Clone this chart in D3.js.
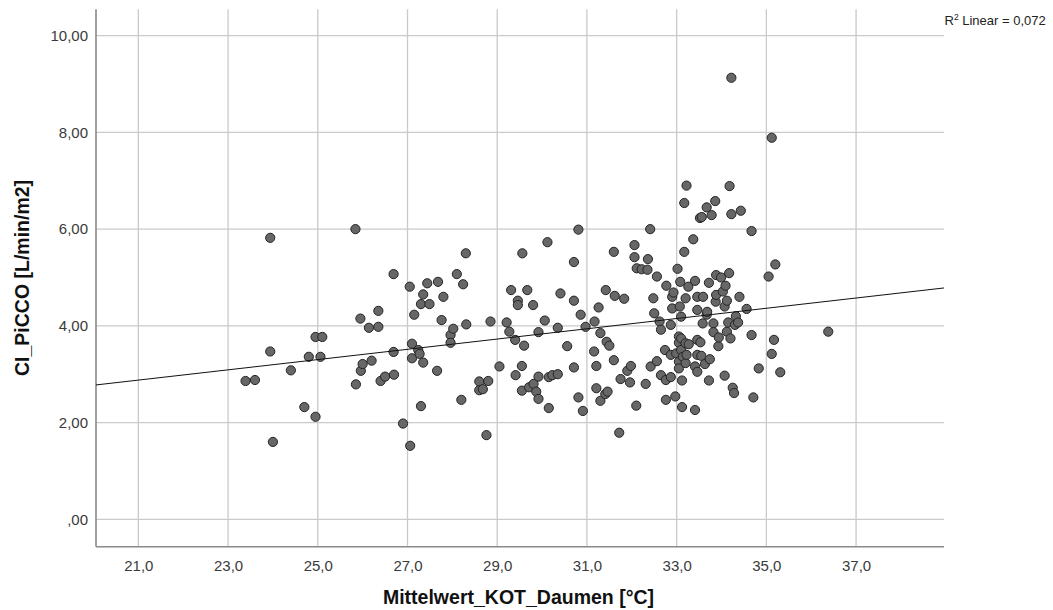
<!DOCTYPE html>
<html>
<head>
<meta charset="utf-8">
<script src="https://cdn.jsdelivr.net/npm/d3@7"></script>
<style>
  html, body { margin: 0; padding: 0; background: #fff; }
  svg { display: block; }
  text { font-family: "Liberation Sans", Arial, sans-serif; }
</style>
</head>
<body>
<svg id="chart" width="1053" height="610"></svg>
<script>
// ---- Data ----
const thumbTemp = [
  23.39, 23.60, 23.94, 23.94, 24.00, 24.40, 24.70, 24.80, 24.95, 25.10,
  25.06, 24.95, 25.84, 25.85, 25.95, 25.96, 26.00, 26.14, 26.20, 26.35,
  26.35, 26.40, 26.50, 26.69, 26.69, 26.70, 26.90, 27.05, 27.06, 27.10,
  27.10, 27.15, 27.24, 27.27, 27.30, 27.30, 27.35, 27.35, 27.44, 27.49,
  27.66, 27.68, 27.76, 27.80, 27.96, 27.96, 28.02, 28.10, 28.20, 28.24,
  28.30, 28.31, 28.60, 28.60, 28.68, 28.76, 28.80, 28.85, 29.05, 29.21,
  29.27, 29.31, 29.40, 29.41, 29.46, 29.46, 29.55, 29.55, 29.56, 29.60,
  29.67, 29.71, 29.80, 29.81, 29.87, 29.92, 29.92, 29.92, 30.06, 30.12,
  30.15, 30.15, 30.23, 30.35, 30.35, 30.41, 30.56, 30.71, 30.71, 30.71,
  30.81, 30.81, 30.86, 30.91, 30.97, 31.16, 31.17, 31.21, 31.21, 31.26,
  31.30, 31.30, 31.41, 31.42, 31.44, 31.46, 31.50, 31.60, 31.60, 31.62,
  31.72, 31.75, 31.83, 31.90, 31.96, 31.98, 32.06, 32.06, 32.11, 32.10,
  32.22, 32.31, 32.35, 32.36, 32.41, 32.42, 32.48, 32.50, 32.56, 32.56,
  32.62, 32.65, 32.65, 32.74, 32.76, 32.76, 32.77, 32.87, 32.87, 32.87,
  32.90, 32.90, 32.93, 32.97, 32.99, 33.02, 33.05, 33.05, 33.05, 33.05,
  33.07, 33.08, 33.10, 33.10, 33.10, 33.12, 33.12, 33.14, 33.17, 33.17,
  33.20, 33.20, 33.20, 33.22, 33.22, 33.26, 33.27, 33.37, 33.41, 33.41,
  33.41, 33.46, 33.46, 33.46, 33.46, 33.46, 33.52, 33.53, 33.55, 33.56,
  33.58, 33.59, 33.63, 33.67, 33.67, 33.68, 33.72, 33.72, 33.74, 33.78,
  33.82, 33.82, 33.86, 33.87, 33.88, 33.88, 33.93, 33.94, 33.99, 34.03,
  34.07, 34.07, 34.09, 34.12, 34.12, 34.15, 34.17, 34.18, 34.20, 34.22,
  34.22, 34.25, 34.28, 34.30, 34.32, 34.37, 34.40, 34.43, 34.56, 34.67,
  34.67, 34.71, 34.83, 35.05, 35.12, 35.12, 35.17, 35.20, 35.31, 36.38
];
const ciPicco = [
  2.86, 2.88, 3.47, 5.82, 1.60, 3.08, 2.32, 3.36, 3.77, 3.77,
  3.36, 2.12, 6.00, 2.79, 4.15, 3.07, 3.21, 3.96, 3.28, 4.31,
  3.98, 2.86, 2.95, 5.07, 3.46, 2.99, 1.98, 4.81, 1.52, 3.63,
  3.33, 4.23, 3.50, 3.42, 4.45, 2.34, 4.65, 3.24, 4.88, 4.45,
  3.07, 4.91, 4.12, 4.60, 3.81, 3.65, 3.94, 5.07, 2.47, 4.86,
  5.50, 4.03, 2.85, 2.67, 2.69, 1.74, 2.86, 4.09, 3.16, 4.07,
  3.88, 4.74, 3.71, 2.98, 4.52, 4.43, 3.17, 2.66, 5.50, 3.59,
  4.74, 2.73, 4.43, 2.80, 2.64, 3.87, 2.95, 2.49, 4.11, 5.73,
  2.30, 2.94, 2.98, 3.96, 3.00, 4.67, 3.58, 5.32, 4.52, 3.14,
  5.99, 2.52, 4.23, 2.24, 3.98, 3.47, 4.09, 3.17, 2.71, 4.38,
  3.85, 2.45, 2.59, 4.74, 3.67, 2.64, 3.59, 5.53, 3.29, 4.62,
  1.79, 2.90, 4.56, 3.07, 2.83, 3.17, 5.67, 5.42, 5.19, 2.35,
  5.17, 2.80, 5.16, 5.38, 6.00, 3.16, 4.57, 4.26, 5.02, 3.27,
  4.09, 3.92, 2.98, 3.50, 2.88, 2.47, 4.83, 4.02, 3.40, 2.94,
  4.60, 4.36, 4.69, 2.54, 3.43, 5.18, 3.78, 3.65, 3.26, 3.12,
  4.40, 4.91, 4.19, 3.74, 3.50, 2.87, 2.32, 3.36, 6.54, 5.53,
  4.57, 3.64, 3.23, 6.90, 3.40, 4.81, 3.62, 5.79, 4.93, 3.16,
  2.26, 4.60, 4.33, 3.71, 3.40, 3.05, 6.23, 3.66, 3.38, 6.25,
  4.05, 4.60, 3.21, 6.45, 4.23, 4.29, 4.89, 2.87, 3.31, 6.29,
  4.05, 3.87, 6.58, 4.50, 5.05, 4.64, 3.58, 3.76, 5.00, 4.71,
  4.40, 2.97, 4.83, 4.52, 3.88, 4.07, 5.09, 6.89, 3.74, 9.13,
  6.31, 2.72, 2.61, 4.02, 4.20, 4.07, 4.60, 6.38, 4.35, 5.96,
  3.81, 2.52, 3.12, 5.02, 7.89, 3.42, 3.71, 5.27, 3.04, 3.88
];
const xTicks = [21, 23, 25, 27, 29, 31, 33, 35, 37];
const xTickLabels = ["21,0", "23,0", "25,0", "27,0", "29,0", "31,0", "33,0", "35,0", "37,0"];
const yTicks = [0, 2, 4, 6, 8, 10];
const yTickLabels = [",00", "2,00", "4,00", "6,00", "8,00", "10,00"];
const fitIntercept = 0.650;
const fitSlope = 0.1061;
const rSquaredLabel = "0,072";

// ---- Layout ----
const svg = d3.select("#chart");
const plotLeft = 96, plotRight = 944, plotTop = 9.3, plotBottom = 546.7;

const x = d3.scaleLinear().domain([20.056, 38.96]).range([plotLeft, plotRight]);
const y = d3.scaleLinear().domain([-0.567, 10.546]).range([plotBottom, plotTop]);

// Grid
const grid = svg.append("g");
grid.selectAll("line.gx").data(xTicks).enter().append("line")
  .attr("x1", d => x(d)).attr("x2", d => x(d))
  .attr("y1", plotTop).attr("y2", plotBottom)
  .attr("stroke", "#cacaca").attr("stroke-width", 1.3);
grid.selectAll("line.gy").data(yTicks).enter().append("line")
  .attr("x1", plotLeft).attr("x2", plotRight)
  .attr("y1", d => y(d)).attr("y2", d => y(d))
  .attr("stroke", "#cacaca").attr("stroke-width", 1.3);

// Axes (labels only, no tick marks)
const xAxis = d3.axisBottom(x).tickValues(xTicks)
  .tickFormat((d, i) => xTickLabels[i]).tickSize(0).tickPadding(14);
const gx = svg.append("g").attr("transform", `translate(0,${plotBottom})`).call(xAxis);
gx.select(".domain").remove();
gx.selectAll("text").attr("font-size", 15).attr("fill", "#3a3a3a")
  .style("font-family", "'Liberation Sans', Arial, sans-serif");

const yAxis = d3.axisLeft(y).tickValues(yTicks)
  .tickFormat((d, i) => yTickLabels[i]).tickSize(0).tickPadding(8);
const gy = svg.append("g").attr("transform", `translate(${plotLeft},0)`).call(yAxis);
gy.select(".domain").remove();
gy.selectAll("text").attr("font-size", 15).attr("fill", "#3a3a3a")
  .style("font-family", "'Liberation Sans', Arial, sans-serif");

// Axis lines
svg.append("line").attr("x1", plotLeft).attr("x2", plotLeft).attr("y1", plotTop).attr("y2", plotBottom)
  .attr("stroke", "#8a8a8a").attr("stroke-width", 1.6);
svg.append("line").attr("x1", plotLeft).attr("x2", plotRight).attr("y1", plotBottom).attr("y2", plotBottom)
  .attr("stroke", "#8a8a8a").attr("stroke-width", 1.6);

// Points
const pts = thumbTemp.map((t, i) => [t, ciPicco[i]]);
svg.append("g").selectAll("circle").data(pts).enter().append("circle")
  .attr("cx", d => x(d[0])).attr("cy", d => y(d[1])).attr("r", 4.6)
  .attr("fill", "#676767").attr("stroke", "#242424").attr("stroke-width", 1);

// Fit line
const xd = x.domain();
svg.append("line")
  .attr("x1", x(xd[0])).attr("y1", y(fitIntercept + fitSlope * xd[0]))
  .attr("x2", x(xd[1])).attr("y2", y(fitIntercept + fitSlope * xd[1]))
  .attr("stroke", "#111").attr("stroke-width", 1);

// Axis titles
svg.append("text").attr("x", 518.5).attr("y", 604).attr("text-anchor", "middle")
  .attr("font-size", 19.5).attr("font-weight", "bold").attr("fill", "#111")
  .text("Mittelwert_KOT_Daumen [°C]");
svg.append("text").attr("transform", "translate(29,278) rotate(-90)")
  .attr("text-anchor", "middle")
  .attr("font-size", 19.5).attr("font-weight", "bold").attr("fill", "#111")
  .text("CI_PiCCO [L/min/m2]");

// R² label
const r2 = svg.append("text").attr("x", 944.5).attr("y", 25).attr("font-size", 13).attr("fill", "#222");
r2.append("tspan").text("R");
r2.append("tspan").attr("font-size", 8.5).attr("dy", -5).text("2");
r2.append("tspan").attr("dy", 5).text(" Linear = " + rSquaredLabel);
</script>
</body>
</html>
